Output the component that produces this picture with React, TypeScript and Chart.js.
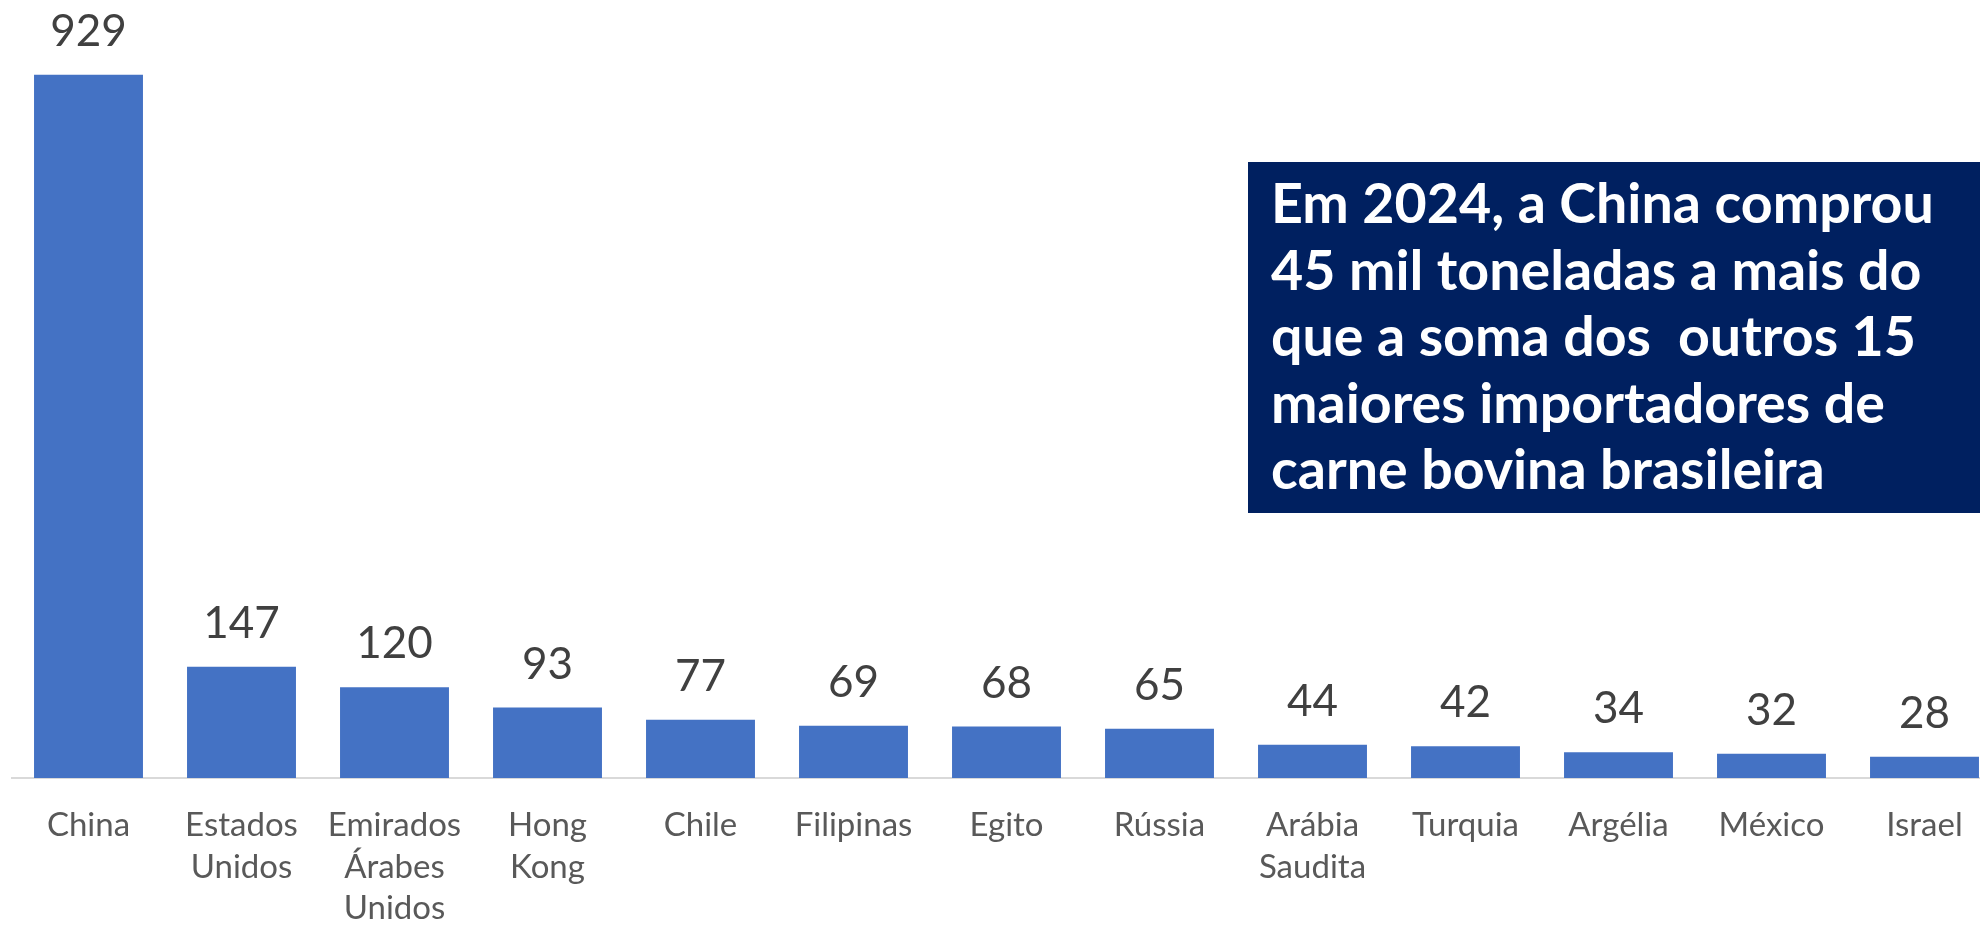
import React, { useEffect, useRef } from "react";
import { Chart, registerables } from "chart.js";

Chart.register(...registerables);

const categories: (string | string[])[] = [
  "China",
  ["Estados", "Unidos"],
  ["Emirados", "Árabes", "Unidos"],
  ["Hong", "Kong"],
  "Chile",
  "Filipinas",
  "Egito",
  "Rússia",
  ["Arábia", "Saudita"],
  "Turquia",
  "Argélia",
  "México",
  "Israel",
];

const values: number[] = [929, 147, 120, 93, 77, 69, 68, 65, 44, 42, 34, 32, 28];

const noteLines: string[] = [
  "Em 2024, a China comprou",
  "45 mil toneladas a mais do",
  "que a soma dos  outros 15",
  "maiores importadores de",
  "carne bovina brasileira",
];

const FONT = "Lato";

export default function App() {
  const ref = useRef<HTMLCanvasElement>(null);

  useEffect(() => {
    if (!ref.current) return;

    const valueLabels = {
      id: "valueLabels",
      afterDatasetsDraw(chart: any) {
        const ctx = chart.ctx;
        const meta = chart.getDatasetMeta(0);
        ctx.save();
        ctx.fillStyle = "#404040";
        ctx.font = `44px ${FONT}`;
        ctx.textAlign = "center";
        ctx.textBaseline = "alphabetic";
        meta.data.forEach((el: any, i: number) => {
          ctx.fillText(String(values[i]), el.x, el.y - 29);
        });
        ctx.restore();
      },
    };

    const noteBox = {
      id: "noteBox",
      afterDraw(chart: any) {
        const ctx = chart.ctx;
        ctx.save();
        ctx.fillStyle = "#002060";
        ctx.fillRect(1248, 162, chart.width - 1248, 351);
        ctx.fillStyle = "#ffffff";
        ctx.textAlign = "left";
        ctx.textBaseline = "alphabetic";
        // fit first line to reference width
        let size = 56;
        ctx.font = `bold ${size}px ${FONT}`;
        const w = ctx.measureText(noteLines[0]).width;
        size = Math.min(58, (size * 663) / w);
        ctx.font = `bold ${size}px ${FONT}`;
        noteLines.forEach((line, i) => {
          ctx.fillText(line, 1271, 223 + i * 66.5);
        });
        ctx.restore();
      },
    };

    const chart = new Chart(ref.current, {
      type: "bar",
      data: {
        labels: categories,
        datasets: [
          {
            data: values,
            backgroundColor: "#4472C4",
            borderWidth: 0,
            categoryPercentage: 1,
            barPercentage: 0.712,
          },
        ],
      },
      options: {
        animation: false,
        responsive: true,
        maintainAspectRatio: false,
        layout: { padding: { top: 21, left: 12, right: 9, bottom: 0 } },
        plugins: {
          legend: { display: false },
          tooltip: { enabled: false },
        },
        scales: {
          x: {
            grid: { display: false, drawTicks: false },
            border: { display: true, color: "#d9d9d9", width: 2 },
            ticks: {
              color: "#595959",
              font: { family: FONT, size: 33, lineHeight: 1.27 },
              padding: 26,
              maxRotation: 0,
              minRotation: 0,
              autoSkip: false,
            },
            afterFit(scale: any) {
              scale.height = 148;
            },
          },
          y: {
            display: false,
            min: 0,
            max: 1000,
          },
        },
      },
      plugins: [valueLabels, noteBox],
    });

    return () => chart.destroy();
  }, []);

  return (
    <div
      style={{
        position: "fixed",
        left: 0,
        top: 0,
        width: 1980,
        height: 926,
        overflow: "hidden",
        background: "#ffffff",
      }}
    >
      <div style={{ position: "relative", width: 2010, height: 926 }}>
        <canvas ref={ref} />
      </div>
    </div>
  );
}
